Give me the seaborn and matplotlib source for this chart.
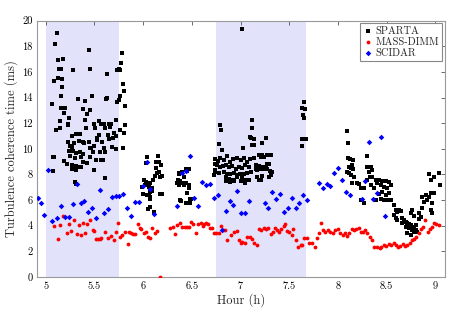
import numpy as np
import pandas as pd
import matplotlib
matplotlib.use("Agg")
import matplotlib.pyplot as plt
import seaborn as sns
from matplotlib.ticker import FormatStrFormatter, MultipleLocator

# ---- data ----
sparta_x = [
    5.110, 5.093, 5.442, 5.123, 5.178, 5.134, 5.151, 5.281, 5.459, 5.630,
    5.089, 5.123, 5.171, 5.164, 5.161, 5.065, 5.332, 5.401, 5.151, 5.199,
    5.192, 5.476, 5.620, 5.624, 5.384, 5.456, 5.141, 5.236, 5.428, 5.404,
    5.226, 5.223, 5.545, 5.493, 5.572, 5.596, 5.648, 5.672, 5.106, 5.144,
    5.411, 5.504, 5.613, 5.312, 5.356, 5.267, 5.548, 5.641, 5.336, 5.377,
    5.442, 5.521, 5.528, 5.654, 5.230, 5.288, 5.391, 5.466, 5.500, 5.579,
    5.247, 5.264, 5.675, 5.236, 5.281, 5.308, 5.349, 5.377, 5.449, 5.483,
    5.552, 5.606, 5.596, 5.072, 5.086, 5.247, 5.298, 5.363, 5.452, 5.514,
    5.562, 5.589, 5.192, 5.219, 5.271, 5.315, 5.343, 5.360, 5.384, 5.425,
    5.264, 5.312, 5.075, 5.497, 5.606, 5.305, 5.315,
    5.784, 5.774, 5.750, 5.767, 5.733, 5.794, 5.808, 5.767, 5.750, 5.733,
    5.818, 5.726, 5.818, 5.657, 5.760, 5.705, 5.716, 5.801, 5.692, 5.726,
    5.791,
    6.041, 6.151, 6.185, 6.137, 6.161, 6.144, 6.195, 6.171, 6.034, 6.075,
    6.058, 6.024, 6.103, 6.058, 6.092, 6.075, 6.058, 6.178, 6.041, 6.075,
    6.069, 6.048, 6.069, 5.990, 6.000, 6.030, 6.110, 6.120, 6.190, 6.010,
    6.130, 6.090, 6.160,
    6.366, 6.400, 6.435, 6.452, 6.469, 6.424, 6.376, 6.390, 6.410, 6.418,
    6.435, 6.469, 6.469, 6.452, 6.479, 6.493, 6.445, 6.390, 6.486, 6.350,
    6.360, 6.370, 6.365, 6.375,
    6.743, 6.767, 6.794, 6.829, 6.863, 6.897, 6.925, 6.966, 7.000, 7.034,
    7.068, 7.096, 6.733, 6.760, 6.794, 6.822, 6.856, 6.880, 6.914, 6.949,
    6.983, 7.017, 7.051, 7.086, 6.743, 6.777, 6.829, 6.863, 6.897, 6.931,
    6.959, 6.993, 7.034, 7.068, 7.103, 6.846, 6.880, 6.925, 6.966, 7.017,
    7.051, 7.085, 6.856, 6.890, 6.931, 7.000, 7.051, 6.787, 6.800, 6.811,
    6.777, 7.017, 7.027, 7.115, 7.100, 6.726, 6.733,
    7.120, 7.103, 7.137, 7.120, 7.137, 7.223, 7.257, 7.137, 7.189, 7.223,
    7.206, 7.240, 7.275, 7.309, 7.155, 7.189, 7.223, 7.257, 7.275, 7.292,
    7.155, 7.172, 7.206, 7.240, 7.275, 7.302, 7.326, 7.172, 7.189, 7.206,
    7.292, 7.309, 7.223,
    7.651, 7.634, 7.658, 7.645, 7.651, 7.634, 7.668, 7.634,
    8.096, 8.103, 8.103, 8.124, 8.158, 8.113, 8.148, 8.130, 8.158, 8.090,
    8.113, 8.130, 8.165, 8.148, 8.192, 8.216, 8.233, 8.268, 8.233, 8.268,
    8.250, 8.302, 8.302, 8.336, 8.319, 8.353, 8.302, 8.330, 8.353, 8.387,
    8.422, 8.456, 8.490, 8.404, 8.439, 8.473, 8.507, 8.336, 8.370, 8.422,
    8.456, 8.490, 8.387, 8.439, 8.473, 8.507,
    8.525, 8.542, 8.525, 8.542, 8.576, 8.593, 8.610, 8.627, 8.644, 8.576,
    8.593, 8.610, 8.661, 8.679, 8.696, 8.713, 8.730, 8.747, 8.764, 8.781,
    8.799, 8.816, 8.661, 8.696, 8.730, 8.764, 8.713, 8.747, 8.781, 8.747,
    8.764, 8.781, 8.799, 8.833, 8.850, 8.833, 8.867, 8.884, 8.867, 8.901,
    8.919, 8.936, 8.953, 8.970, 8.953, 8.970, 8.987, 8.936, 8.953, 8.987,
    9.038, 9.045,
]
sparta_y = [
    19.04, 18.21, 17.69, 16.91, 17.04, 16.26, 16.21, 16.13, 16.21, 15.80,
    15.28, 15.54, 15.41, 14.83, 14.13, 13.53, 13.85, 13.74, 13.22, 13.22,
    12.83, 14.13, 13.87, 14.00, 13.14, 13.02, 12.18, 12.44, 12.68, 12.24,
    11.92, 11.82, 12.16, 11.90, 11.90, 11.90, 11.90, 11.90, 11.46, 11.59,
    11.59, 11.64, 11.59, 11.14, 11.14, 11.01, 11.07, 11.07, 10.62, 10.50,
    10.55, 10.88, 10.68, 10.73, 10.55, 10.42, 10.47, 10.03, 10.24, 10.50,
    10.21, 10.16, 10.16, 9.82, 9.82, 9.64, 9.77, 9.56, 10.03, 9.74,
    9.77, 9.77, 10.03, 9.33, 9.33, 9.43, 9.27, 9.38, 9.38, 9.12,
    9.12, 9.12, 9.07, 8.78, 8.70, 8.65, 8.60, 8.60, 8.99, 8.86,
    8.39, 8.34, 8.29, 8.34, 7.74, 7.43, 7.25,
    17.48, 16.70, 16.26, 16.18, 16.13, 15.09, 14.50, 14.11, 13.80, 13.66,
    13.33, 12.24, 11.85, 11.72, 11.46, 11.20, 10.99, 11.20, 10.81, 9.95,
    10.03,
    9.33, 9.43, 8.73, 8.47, 8.21, 8.13, 7.87, 7.82, 7.38, 7.30,
    7.25, 7.17, 7.56, 7.04, 6.73, 6.65, 6.39, 6.44, 6.39, 6.21,
    6.08, 5.27, 5.48, 7.00, 6.50, 8.90, 5.10, 7.90, 6.45, 7.60,
    8.95, 6.90, 9.00,
    8.03, 8.21, 8.39, 8.26, 8.39, 7.82, 7.51, 7.35, 7.30, 7.17,
    7.35, 7.17, 6.91, 6.57, 6.08, 6.05, 5.74, 5.92, 5.79, 7.30,
    7.56, 7.17, 8.13, 6.00,
    9.20, 9.05, 9.30, 9.10, 9.40, 9.00, 9.20, 9.30, 9.10, 9.25,
    9.00, 9.20, 8.80, 8.70, 8.60, 8.65, 8.70, 8.60, 8.65, 8.45,
    8.60, 8.50, 8.70, 8.60, 8.20, 8.10, 8.20, 8.00, 8.00, 8.10,
    7.95, 8.00, 8.05, 8.10, 8.20, 7.80, 7.65, 7.60, 7.80, 7.75,
    7.55, 7.60, 7.45, 7.40, 7.50, 7.45, 7.30, 11.85, 11.46, 9.90,
    10.37, 19.38, 10.03, 12.24, 10.94, 7.95, 8.34,
    11.59, 10.88, 10.73, 10.29, 10.29, 10.42, 10.81, 9.25, 9.51, 9.51,
    9.33, 9.33, 9.51, 9.51, 8.75, 8.65, 8.55, 8.60, 8.80, 8.85,
    8.40, 8.35, 8.45, 8.45, 8.45, 8.25, 8.20, 7.80, 7.60, 7.55,
    7.80, 7.95, 7.85,
    13.66, 13.22, 13.07, 12.63, 12.42, 10.76, 10.73, 10.21,
    11.38, 10.42, 9.25, 9.17, 9.12, 8.60, 8.73, 8.47, 8.39, 8.21,
    8.08, 7.95, 7.82, 7.30, 7.30, 7.25, 6.91, 6.91, 6.00, 5.79,
    6.00, 9.43, 8.60, 8.60, 8.21, 8.34, 7.60, 7.80, 7.80, 7.55,
    7.60, 7.50, 7.45, 7.30, 7.20, 7.05, 6.90, 7.20, 6.90, 6.50,
    6.65, 6.40, 6.00, 6.10, 6.00, 6.00,
    7.43, 7.17, 6.57, 6.00, 5.61, 5.22, 5.09, 5.22, 5.14, 4.83,
    4.57, 4.44, 4.57, 4.44, 4.31, 4.18, 4.13, 4.05, 3.92, 3.79,
    3.66, 3.53, 4.18, 3.92, 3.79, 3.66, 3.40, 3.27, 3.53, 5.01,
    5.22, 4.75, 4.05, 4.49, 4.70, 5.01, 5.35, 5.87, 6.26, 6.39,
    6.00, 6.26, 6.57, 5.79, 5.22, 5.01, 6.52, 8.03, 7.56, 7.82,
    8.13, 7.17,
]

massdimm_x = [
    5.08, 5.13, 5.15, 5.18, 5.22, 5.24, 5.26, 5.29, 5.32, 5.34,
    5.36, 5.38, 5.40, 5.42, 5.45, 5.48, 5.50, 5.52, 5.54, 5.555,
    5.57, 5.61, 5.64, 5.67, 5.70, 5.72, 5.74, 5.76, 5.78, 5.81,
    5.84, 5.85, 5.88, 5.90, 5.92, 5.945, 5.97, 5.98, 6.01, 6.03,
    6.05, 6.075, 6.09, 6.12, 6.14, 6.17, 6.28, 6.305, 6.33, 6.35,
    6.38, 6.40, 6.425, 6.45, 6.47, 6.49, 6.51, 6.54, 6.56, 6.59,
    6.61, 6.62, 6.65, 6.67, 6.69, 6.71, 6.73, 6.75, 6.78, 6.80,
    6.82, 6.84, 6.86, 6.90, 6.93, 6.96, 6.98, 7.00, 7.02, 7.05,
    7.07, 7.10, 7.12, 7.14, 7.17, 7.19, 7.21, 7.24, 7.26, 7.285,
    7.31, 7.33, 7.35, 7.38, 7.40, 7.42, 7.45, 7.46, 7.48, 7.50,
    7.525, 7.54, 7.57, 7.59, 7.62, 7.63, 7.65, 7.68, 7.70, 7.73,
    7.765, 7.79, 7.81, 7.83, 7.846, 7.87, 7.894, 7.922, 7.95, 7.973,
    7.997, 8.025, 8.052, 8.069, 8.093, 8.117, 8.144, 8.168, 8.189, 8.213,
    8.237, 8.257, 8.281, 8.299, 8.326, 8.35, 8.374, 8.401, 8.429, 8.446,
    8.47, 8.494, 8.521, 8.545, 8.573, 8.597, 8.617, 8.641, 8.665, 8.686,
    8.71, 8.737, 8.761, 8.785, 8.806, 8.83, 8.854, 8.874, 8.898, 8.922,
    8.943, 8.967, 8.99, 9.011, 9.035,
]
massdimm_y = [
    3.97, 2.94, 4.05, 4.75, 3.40, 4.13, 3.61, 4.44, 3.35, 4.05,
    3.27, 4.23, 3.40, 4.13, 4.44, 3.66, 3.61, 2.99, 2.95, 2.93,
    3.00, 3.53, 3.01, 3.20, 2.88, 3.48, 4.18, 3.09, 3.27, 3.50,
    2.57, 3.50, 3.40, 3.32, 3.32, 4.13, 3.79, 3.71, 3.40, 3.53,
    3.14, 3.01, 3.79, 3.40, 3.61, 0.00, 3.79, 3.92, 3.32, 4.05,
    4.18, 3.87, 3.87, 3.87, 3.87, 4.31, 4.13, 3.40, 4.13, 4.18,
    3.97, 4.13, 4.18, 4.13, 3.79, 3.79, 3.40, 3.40, 3.45, 3.97,
    3.66, 3.66, 2.88, 3.27, 3.53, 3.61, 2.88, 2.67, 2.75, 2.67,
    3.14, 3.14, 2.93, 2.67, 2.49, 3.71, 3.66, 3.79, 3.71, 3.79,
    3.35, 3.53, 3.79, 3.66, 3.53, 3.71, 3.97, 4.13, 3.58, 3.50,
    3.27, 3.71, 2.88, 2.31, 2.49, 2.49, 3.01, 3.01, 2.67, 2.67,
    2.31, 3.01, 3.45, 4.20, 3.67, 3.54, 3.67, 3.54, 3.41, 3.62,
    3.72, 3.46, 3.28, 3.41, 3.20, 3.46, 3.72, 3.62, 3.72, 3.80,
    3.54, 3.54, 3.67, 3.41, 3.10, 2.89, 2.37, 2.37, 2.25, 2.37,
    2.50, 2.42, 2.58, 2.50, 2.63, 2.50, 2.37, 2.42, 2.58, 2.42,
    2.50, 2.68, 2.84, 2.94, 3.15, 3.41, 3.72, 3.93, 4.44, 3.54,
    3.72, 3.93, 4.24, 4.13, 4.05,
]

scidar_x = [
    4.92, 4.948, 4.986, 5.027, 5.068, 5.112, 5.153, 5.201, 5.243, 5.277,
    5.318, 5.359, 5.397, 5.438, 5.475, 5.517, 5.558, 5.599, 5.637, 5.678,
    5.719, 5.756, 5.797, 5.838, 5.876, 5.917, 5.959, 5.997, 6.037, 6.075,
    6.113, 6.35, 6.40, 6.438, 6.479, 6.52, 6.56, 6.606, 6.647, 6.685,
    6.726, 6.767, 6.805, 6.846, 6.887, 6.925, 6.966, 7.007, 7.051, 7.092,
    7.247, 7.285, 7.326, 7.367, 7.405, 7.446, 7.487, 7.525, 7.566, 7.60,
    7.641, 7.679, 7.802, 7.846, 7.887, 7.922, 7.963, 8.00, 8.042, 8.086,
    8.12, 8.247, 8.281, 8.319, 8.36, 8.401, 8.443, 8.48,
]
scidar_y = [
    6.18, 5.74, 4.83, 8.34, 4.39, 4.57, 5.53, 4.70, 4.70, 5.69,
    7.22, 5.74, 5.95, 5.09, 5.35, 4.63, 6.78, 4.96, 5.27, 6.26,
    6.31, 6.34, 6.47, 5.35, 4.76, 5.84, 5.84, 7.12, 8.94, 6.83,
    4.89, 5.53, 8.08, 8.29, 9.43, 6.18, 5.56, 7.43, 7.17, 7.25,
    6.18, 6.39, 3.66, 5.17, 5.92, 5.61, 6.73, 5.01, 4.96, 5.92,
    5.79, 5.35, 6.60, 6.08, 6.47, 5.09, 5.40, 6.13, 5.35, 5.74,
    6.39, 6.00, 7.35, 6.96, 7.22, 7.12, 8.13, 8.52, 7.56, 6.60,
    6.42, 6.05, 7.48, 10.55, 6.05, 6.52, 10.89, 4.75,
]

shade_spans = [(5.0, 5.75), (6.75, 7.67)]

# ---- styling ----
sns.set_style("white")
plt.rcParams["font.family"] = "serif"
plt.rcParams["font.serif"] = ["cmr10", "DejaVu Serif"]
plt.rcParams["mathtext.fontset"] = "cm"
plt.rcParams["axes.formatter.use_mathtext"] = True

fig = plt.figure(figsize=(4.63, 3.09), dpi=100)
ax = fig.add_axes([0.080, 0.104, 0.881, 0.829])

for lo, hi in shade_spans:
    ax.axvspan(lo, hi, color="#e2e2fb", lw=0, zorder=0)

sparta = pd.DataFrame({"hour": sparta_x, "tau": sparta_y})
massdimm = pd.DataFrame({"hour": massdimm_x, "tau": massdimm_y})
scidar = pd.DataFrame({"hour": scidar_x, "tau": scidar_y})

sns.scatterplot(data=sparta, x="hour", y="tau", marker="s", s=6, color="black",
                linewidth=0, label="SPARTA", ax=ax, zorder=3)
sns.scatterplot(data=massdimm, x="hour", y="tau", marker="o", s=7.5, color="#ff0000",
                linewidth=0, label="MASS-DIMM", ax=ax, zorder=3)
sns.scatterplot(data=scidar, x="hour", y="tau", marker="D", s=8, color="#0000ff",
                linewidth=0, label="SCIDAR", ax=ax, zorder=3)

ax.set_xlim(4.91, 9.10)
ax.set_ylim(0, 20)
ax.xaxis.set_major_locator(MultipleLocator(0.5))
ax.yaxis.set_major_locator(MultipleLocator(2))
ax.xaxis.set_major_formatter(FormatStrFormatter("%g"))
ax.yaxis.set_major_formatter(FormatStrFormatter("%g"))
ax.tick_params(direction="in", length=3, width=0.6, colors="#555555",
               labelcolor="black", labelsize=7.5, top=True, right=True,
               pad=3)
for sp in ax.spines.values():
    sp.set_color("#999999")
    sp.set_linewidth(0.8)

ax.set_xlabel("Hour (h)", fontsize=9, labelpad=2)
ax.set_ylabel("Turbulence coherence time (ms)", fontsize=9, labelpad=3)

leg = ax.legend(loc="upper right", fontsize=7.5, frameon=True, fancybox=False,
                edgecolor="#888888", framealpha=1, borderpad=0.3,
                labelspacing=0.15, handletextpad=0.2, handlelength=1.0,
                borderaxespad=0.25, markerscale=1.0)
leg.get_frame().set_linewidth(0.8)

fig.savefig("out.png", dpi=100)
